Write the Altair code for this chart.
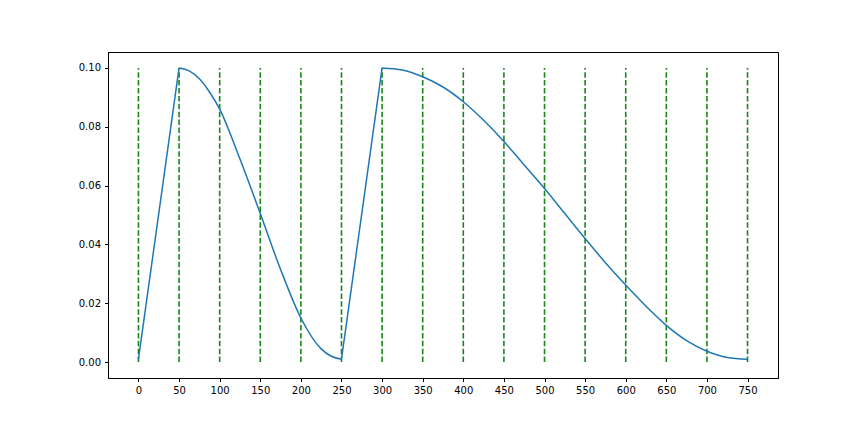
import altair as alt
import pandas as pd

# Learning-rate curve
warm_step = [0, 50, 250, 300]
warm_lr = [0.0010, 0.1000, 0.0010, 0.1000]
warm_seg = [1, 1, 2, 2]

decay_step = [50, 62.5, 75, 87.5, 100, 125, 150, 175, 200, 225, 237.5, 250,
              300, 325, 350, 375, 400, 425, 450, 475, 500, 525, 550, 575,
              600, 625, 650, 675, 700, 725, 750]
decay_lr = [0.1000, 0.0990, 0.0963, 0.0918, 0.0860, 0.0690, 0.0505, 0.0315, 0.0150, 0.0045, 0.0020, 0.0010,
            0.1000, 0.0993, 0.0970, 0.0935, 0.0885, 0.0822, 0.0750, 0.0670, 0.0590, 0.0505, 0.0420, 0.0338,
            0.0262, 0.0190, 0.0125, 0.0073, 0.0037, 0.0016, 0.0010]
decay_seg = [1] * 12 + [2] * 19

marker_steps = list(range(0, 751, 50))
marker_low = 0.0
marker_high = 0.1

x_ticks = list(range(0, 751, 50))
y_ticks = [0.0, 0.02, 0.04, 0.06, 0.08, 0.10]

warm = pd.DataFrame({"step": warm_step, "lr": warm_lr, "seg": warm_seg})
decay = pd.DataFrame({"step": decay_step, "lr": decay_lr, "seg": decay_seg})
marks = pd.DataFrame({"step": marker_steps, "lo": marker_low, "hi": marker_high})

xscale = alt.Scale(domain=[-37.5, 787.5], nice=False, zero=False)
yscale = alt.Scale(domain=[-0.0054, 0.1054], nice=False, zero=False)
xaxis = alt.Axis(values=x_ticks, title=None, grid=False, labelFontSize=10, tickSize=3.5,
                 labelColor="black", tickColor="black", domainColor="black", labelFont="DejaVu Sans",
                 labelPadding=4)
yaxis = alt.Axis(values=y_ticks, format=".2f", title=None, grid=False, labelFontSize=10, tickSize=3.5,
                 labelColor="black", tickColor="black", domainColor="black", labelFont="DejaVu Sans",
                 labelPadding=4)

rules = alt.Chart(marks).mark_rule(color="#1a861a", strokeWidth=1.6, strokeDash=[5.5, 2.4]).encode(
    x=alt.X("step:Q", scale=xscale, axis=xaxis),
    y=alt.Y("lo:Q", scale=yscale, axis=yaxis),
    y2="hi:Q",
)

warm_line = alt.Chart(warm).mark_line(color="#1f77b4", strokeWidth=1.5).encode(
    x=alt.X("step:Q", scale=xscale),
    y=alt.Y("lr:Q", scale=yscale),
    detail="seg:N",
)

decay_line = alt.Chart(decay).mark_line(color="#1f77b4", strokeWidth=1.5, interpolate="monotone").encode(
    x=alt.X("step:Q", scale=xscale),
    y=alt.Y("lr:Q", scale=yscale),
    detail="seg:N",
)

chart = alt.layer(rules, warm_line, decay_line).properties(
    width=670, height=326,
    autosize=alt.AutoSizeParams(type="none"),
    padding={"left": 100, "top": 44, "right": 78, "bottom": 46},
    background="white",
).configure_view(stroke="black", strokeWidth=1)

chart.save("out.html", embed_options={"renderer": "svg", "actions": False})
